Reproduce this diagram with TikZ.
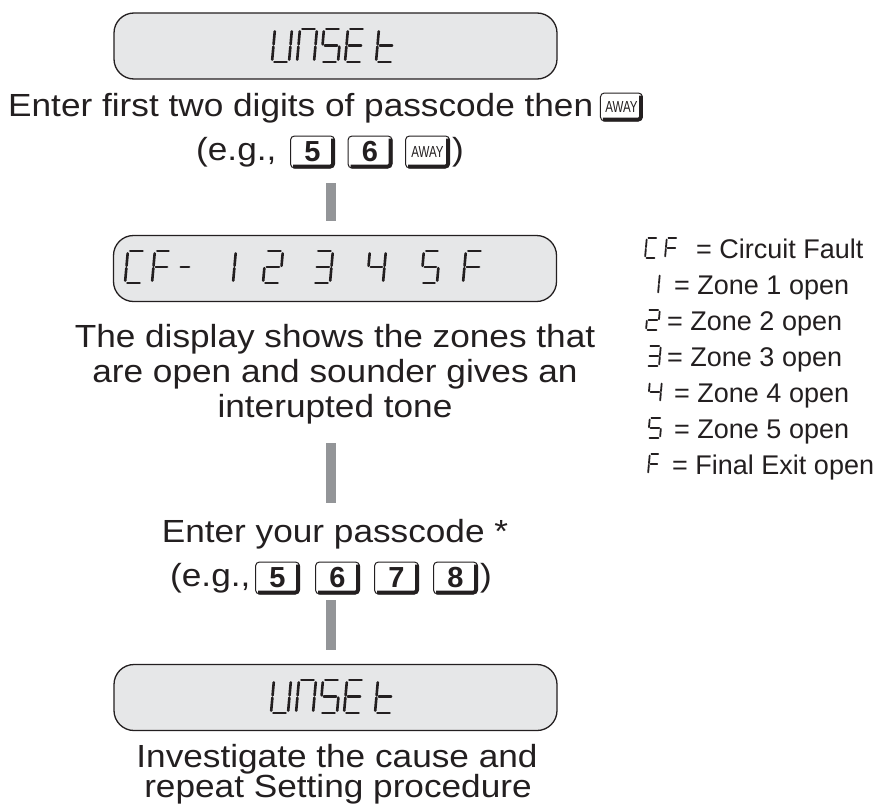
\documentclass[tikz,border=0pt]{standalone}
\usepackage{fontspec}
\setmainfont{Liberation Sans}
\definecolor{txt}{HTML}{231F20}
\definecolor{lcdfill}{HTML}{E6E7E8}
\definecolor{barc}{HTML}{939598}
\newcommand{\mx}[1]{\scalebox{1.1}[1]{#1}}
\newcommand{\awx}{\scalebox{0.72}[1]{AWAY}}
\tikzset{
  lcd/.style={draw=txt, line width=1.3pt, fill=lcdfill, rounded corners=20pt, minimum width=443pt, minimum height=66pt, inner sep=0pt},
  mt/.style={text=txt, font=\fontsize{32}{36}\selectfont, inner sep=0pt, anchor=base},
  lg/.style={text=txt, font=\fontsize{27}{30}\selectfont, inner sep=0pt, anchor=base west},
  bar/.style={draw=barc, line width=10.5pt},
  dkey/.style={draw=txt, line width=1pt, fill=white, rounded corners=4pt, minimum width=44pt, minimum height=32pt, inner sep=0pt, text=txt, font=\fontsize{29}{29}\selectfont\bfseries},
  awkey/.style={dkey, font=\fontsize{16}{16}\selectfont},
  ksh/.style={draw=txt, line width=3.6pt, rounded corners=3pt},
  segln/.style={draw=txt, line width=#1, line cap=round},
  segln/.default=2.6pt,
}
\newcommand{\ssd}[6]{%
 \begin{scope}[shift={(#1,#2)}, xslant=0.09]
  \pgfmathsetmacro\sW{#3}\pgfmathsetmacro\sH{#4}\pgfmathsetmacro\sG{0.9*#5}\pgfmathsetmacro\sM{#4/2}
  \coordinate (a1) at (\sG,-\sH); \coordinate (a2) at (\sW-\sG,-\sH);
  \coordinate (b1) at (\sW,-\sH+\sG); \coordinate (b2) at (\sW,-\sM-\sG*0.5);
  \coordinate (c1) at (\sW,-\sM+\sG*0.5); \coordinate (c2) at (\sW,-\sG);
  \coordinate (d1) at (\sG,0); \coordinate (d2) at (\sW-\sG,0);
  \coordinate (e1) at (0,-\sG); \coordinate (e2) at (0,-\sM+\sG*0.5);
  \coordinate (f1) at (0,-\sM-\sG*0.5); \coordinate (f2) at (0,-\sH+\sG);
  \coordinate (g1) at (\sG,-\sM); \coordinate (g2) at (\sW-\sG,-\sM);
  \foreach \sg in {#6} {\draw[segln=#5pt] (\sg1) -- (\sg2);}
 \end{scope}}
\newcommand{\kshadow}[1]{\draw[ksh] ([shift={(-2,3)}]#1.north east) -- ([shift={(-2,-2)}]#1.south east) -- ([shift={(3,-2)}]#1.south west);}
\begin{document}
\begin{tikzpicture}[x=1pt,y=-1pt]
\useasboundingbox (0,0) rectangle (882,803);
\fill[white] (0,0) rectangle (882,803);
% LCD boxes
\node[lcd] (box1) at (335.5,46) {};
\node[lcd] (box2) at (335,268.5) {};
\node[lcd] (box3) at (335.5,697.5) {};
% box1 glyphs UNSEt
\ssd{272}{62}{17}{33}{2.6}{b,c,d,e,f}
\ssd{297}{62}{17}{33}{2.6}{a,b,c,e,f}
\ssd{321}{62}{17}{33}{2.6}{a,f,g,c,d}
\ssd{345}{62}{17}{33}{2.6}{a,f,g,e,d}
\ssd{376}{62}{17}{33}{2.6}{f,e,g,d}
% box3 glyphs UNSEt
\ssd{271}{713}{17}{33}{2.6}{b,c,d,e,f}
\ssd{296}{713}{17}{33}{2.6}{a,b,c,e,f}
\ssd{320}{713}{17}{33}{2.6}{a,f,g,c,d}
\ssd{344}{713}{17}{33}{2.6}{a,f,g,e,d}
\ssd{375}{713}{17}{33}{2.6}{f,e,g,d}
% box2 glyphs CF- 1 2 3 4 5 F
\ssd{125}{283}{17}{32}{2.6}{a,f,e,d}
\ssd{152}{283}{16}{32}{2.6}{a,f,g,e}
\ssd{177}{283}{13}{32}{2.6}{g}
\ssd{216}{283}{17}{32}{2.6}{b,c}
\ssd{263}{283}{17}{32}{2.6}{a,b,g,e,d}
\ssd{313}{283}{17}{32}{2.6}{a,b,g,c,d}
\ssd{367}{283}{16}{32}{2.6}{f,g,b,c}
\ssd{421}{283}{16}{32}{2.6}{a,f,g,c,d}
\ssd{463}{283}{17}{32}{2.6}{a,f,g,e}
% line 1
\node[mt, anchor=base west] (l1) at (8,116) {\mx{Enter first two digits of passcode then}};
\path (l1.base east) ++(28,-9) node[awkey, minimum width=42pt, minimum height=28pt] (aw1) {\awx};
% line 2
\node[mt, anchor=base west] (l2a) at (196,160) {\mx{(e.g.,}};
\node[dkey] (k21) at (312.5,152) {5};
\node[dkey] (k22) at (370,152) {6};
\node[awkey] (k23) at (427.5,152) {\awx};
\node[mt, anchor=base west] (l2b) at (452,160) {\mx{)}};
% bar 1
\coordinate (b1t) at (331,183); \coordinate (b1b) at (331,221);
\draw[bar] (b1t) -- (b1b);
% text block
\node[mt] (t1) at (335,347) {\mx{The display shows the zones that}};
\node[mt] (t2) at (335,382) {\mx{are open and sounder gives an}};
\node[mt] (t3) at (335,417) {\mx{interupted tone}};
% bar 2
\coordinate (b2t) at (331,443); \coordinate (b2b) at (331,503);
\draw[bar] (b2t) -- (b2b);
% line 3 / 4
\node[mt] (l3) at (335,542) {\mx{Enter your passcode *}};
\node[mt, anchor=base west] (l4a) at (170,586) {\mx{(e.g.,}};
\node[dkey] (k41) at (277.5,578) {5};
\node[dkey] (k42) at (337.5,578) {6};
\node[dkey] (k43) at (396.5,578) {7};
\node[dkey] (k44) at (455.5,578) {8};
\node[mt, anchor=base west] (l4b) at (480,586) {\mx{)}};
% bar 3
\coordinate (b3t) at (331,600); \coordinate (b3b) at (331,650);
\draw[bar] (b3t) -- (b3b);
% bottom text
\node[mt] (t4) at (337,767) {\mx{Investigate the cause and}};
\node[mt] (t5) at (338,797) {\mx{repeat Setting procedure}};
% key shadows
\foreach \k in {aw1,k21,k22,k23,k41,k42,k43,k44} {\kshadow{\k}}
% legend
\ssd{645}{258}{11}{20}{1.8}{a,f,e,d}
\ssd{665}{258}{11}{20}{1.8}{a,f,g,e}
\node[lg] (lgcf) at (696,258) {= Circuit Fault};
\ssd{647}{294}{11}{20}{1.8}{b,c}
\node[lg] (lg1) at (674,294) {= Zone 1 open};
\ssd{646}{330}{12}{20}{1.8}{a,b,g,e,d}
\node[lg] (lg2) at (667,330) {= Zone 2 open};
\ssd{647}{366}{12}{20}{1.8}{a,b,g,c,d}
\node[lg] (lg3) at (667,366) {= Zone 3 open};
\ssd{648}{402}{12}{20}{1.8}{f,g,b,c}
\node[lg] (lg4) at (674,402) {= Zone 4 open};
\ssd{648}{438}{12}{20}{1.8}{a,f,g,c,d}
\node[lg] (lg5) at (674,438) {= Zone 5 open};
\ssd{648}{474}{10}{20}{1.8}{a,f,g,e}
\node[lg] (lgf) at (672,474) {= Final Exit open};
\end{tikzpicture}
\end{document}
